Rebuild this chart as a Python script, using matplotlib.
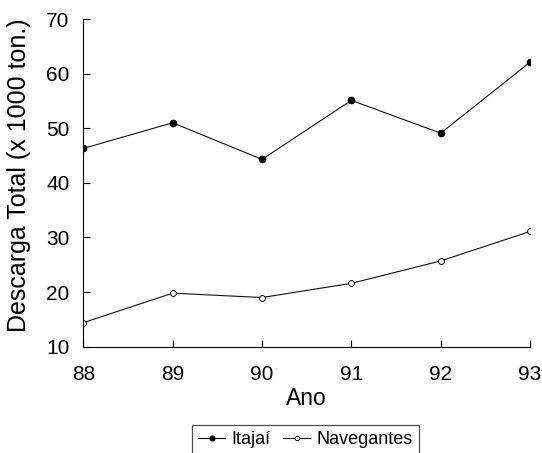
import matplotlib
matplotlib.use('Agg')
import matplotlib.pyplot as plt

plt.rcParams['font.family'] = ['Liberation Sans', 'DejaVu Sans']

anos = [88, 89, 90, 91, 92, 93]
itajai = [46.3, 51.0, 44.3, 55.1, 49.1, 62.1]
navegantes = [14.4, 19.8, 19.0, 21.6, 25.7, 31.1]
yticks = [10, 20, 30, 40, 50, 60, 70]

fig = plt.figure(figsize=(5.42, 4.53), dpi=100)
ax = fig.add_axes([0.1537, 0.2347, 0.8243, 0.7233])

ax.plot(anos, itajai, color='#111111', lw=0.8, marker='o', ms=4.5,
        mfc='black', mec='black', label='Itajaí')
ax.plot(anos, navegantes, color='#111111', lw=0.8, marker='o', ms=4.2,
        mfc='white', mec='black', mew=0.7, label='Navegantes')

ax.set_xlim(88, 93)
ax.set_ylim(10, 70)
ax.set_xticks(anos)
ax.set_yticks(yticks)
ax.spines['top'].set_visible(False)
ax.spines['right'].set_visible(False)
for s in ('left', 'bottom'):
    ax.spines[s].set_linewidth(0.8)
ax.tick_params(direction='in', length=5, width=0.8, labelsize=15)
ax.tick_params(axis='y', pad=10)
ax.tick_params(axis='x', pad=13)

ax.set_xlabel('Ano', fontsize=16.5, labelpad=2)
ax.set_ylabel('Descarga Total (x 1000 ton.)', fontsize=18)
ax.yaxis.set_label_coords(-0.118, 0.524)

leg = fig.legend(loc='upper center', bbox_to_anchor=(305.5 / 542, 1 - 425 / 453),
                 ncol=2, fontsize=13, frameon=True, fancybox=False,
                 handlelength=1.5, handletextpad=0.35, columnspacing=0.7,
                 borderpad=0.35, borderaxespad=0, markerscale=0.75)
leg.get_frame().set_edgecolor('#222222')
leg.get_frame().set_linewidth(0.9)

fig.savefig('out.png', dpi=100)
